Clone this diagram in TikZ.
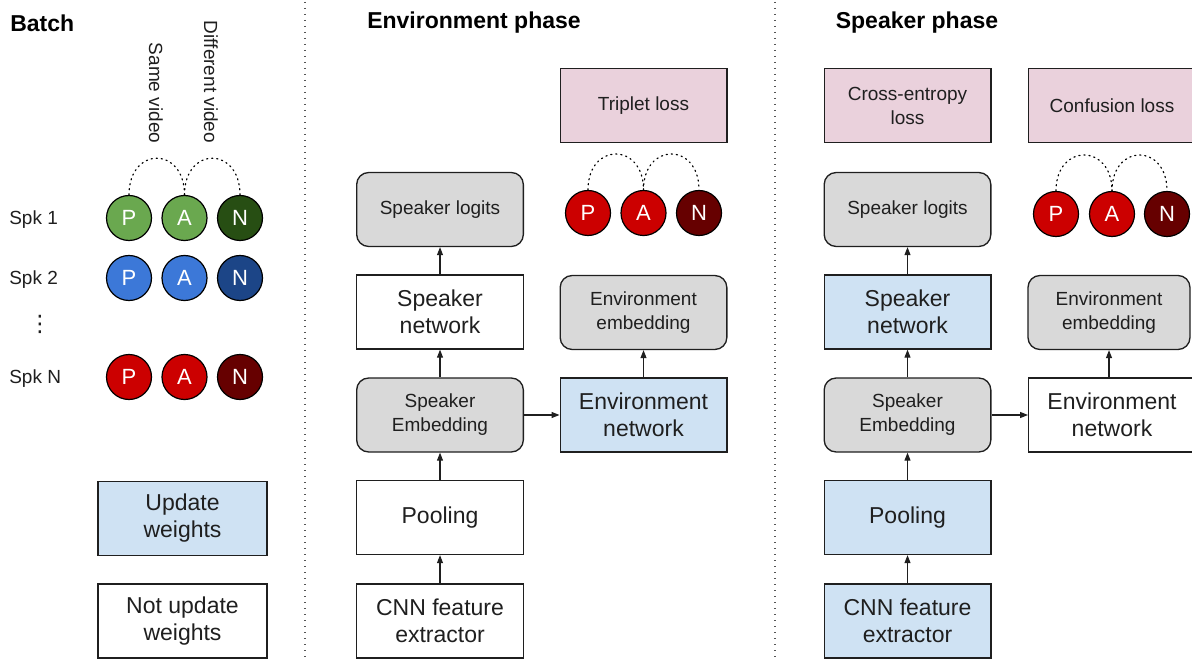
\documentclass[tikz,border=0pt]{standalone}
\usepackage{fontspec}
\setmainfont{Liberation Sans}
\newfontfamily\symfont{DejaVu Sans}
\usetikzlibrary{arrows.meta}

\definecolor{txt}{HTML}{1F1F1F}
\definecolor{boxblue}{HTML}{CFE2F3}
\definecolor{boxgray}{HTML}{D9D9D9}
\definecolor{boxpink}{HTML}{EAD1DC}
\definecolor{sgreen}{HTML}{6AA84F}
\definecolor{sgreend}{HTML}{274E13}
\definecolor{sblue}{HTML}{3C78D8}
\definecolor{sblued}{HTML}{1C4587}
\definecolor{sred}{HTML}{CC0000}
\definecolor{sredd}{HTML}{660000}
\definecolor{sepgray}{HTML}{555555}

\newcommand{\smallfont}{\fontsize{14.25}{18}\selectfont}
\newcommand{\bigfont}{\fontsize{17.25}{20.25}\selectfont}

\tikzset{
  blk/.style={draw=txt, line width=1pt, text=txt, align=center, inner sep=0pt,
    minimum width=125pt, minimum height=55.5pt},
  sqbox/.style={blk},
  rbox/.style={blk, rounded corners=9pt, fill=boxgray},
  bluebox/.style={blk, fill=boxblue},
  pinkbox/.style={blk, fill=boxpink},
  smalltxt/.style={font=\smallfont},
  bigtxt/.style={font=\bigfont},
  sample/.style={circle, draw=black, line width=0.9pt, minimum size=33.75pt,
    inner sep=0pt, text=white, font=\fontsize{16.5}{18}\selectfont},
  flow/.style={-{Triangle[length=6pt,width=4.5pt]}, line width=0.8pt, draw=txt},
  pairlink/.style={line width=0.9pt, dash pattern=on 0.9pt off 2.9pt, line cap=round},
  separator/.style={draw=sepgray, line width=1.1pt, dash pattern=on 1.1pt off 3.4pt},
  heading/.style={font=\bfseries\fontsize{17.25}{20}\selectfont, text=black, inner sep=0pt},
  label/.style={font=\smallfont, text=txt, inner sep=0pt},
}

\begin{document}
\begin{tikzpicture}[x=0.75pt, y=-0.75pt]
\useasboundingbox (0,0) rectangle (1192,659);

% panel separators
\draw[separator] (305,2) -- (305,659);
\draw[separator] (775,2) -- (775,659);

% ---------------- Batch ----------------
\node[heading, anchor=west] (hbatch) at (10,23) {Batch};
\node[label, rotate=-90] (same) at (156,93) {Same video};
\node[label, rotate=-90] (diff) at (211,82) {Different video};

\node[label, anchor=west] (spk1) at (9,220) {Spk 1};
\node[label, anchor=west] (spk2) at (9,280) {Spk 2};
\node[label, anchor=west] (spkn) at (9,379) {Spk N};
\node[label, font=\symfont\fontsize{17}{18}\selectfont] (vdots) at (40,324) {⋮};

\node[sample, fill=sgreen]  (b1p) at (129,218) {P};
\node[sample, fill=sgreen]  (b1a) at (184.5,218) {A};
\node[sample, fill=sgreend] (b1n) at (240,218) {N};
\node[sample, fill=sblue]   (b2p) at (129,278) {P};
\node[sample, fill=sblue]   (b2a) at (184.5,278) {A};
\node[sample, fill=sblued]  (b2n) at (240,278) {N};
\node[sample, fill=sred]    (bnp) at (129,377) {P};
\node[sample, fill=sred]    (bna) at (184.5,377) {A};
\node[sample, fill=sredd]   (bnn) at (240,377) {N};

\draw[pairlink] (b1p.north) .. controls (129,146) and (184.5,146) .. (b1a.north);
\draw[pairlink] (b1a.north) .. controls (184.5,146) and (240,146) .. (b1n.north);

\node[bluebox, bigtxt, minimum width=126.75pt] (upd) at (182.5,518.5) {Update\\weights};
\node[sqbox, bigtxt, minimum width=126.75pt] (noupd) at (182.5,621) {Not update\\weights};

% ---------------- Environment phase ----------------
\node[heading] (henv) at (474,23) {Environment phase};

\node[rbox, smalltxt]  (e-logits) at (440,209.5) {Speaker logits};
\node[sqbox, bigtxt]   (e-spknet) at (440,312) {Speaker\\network};
\node[rbox, smalltxt]  (e-spkemb) at (440,415) {Speaker\\Embedding};
\node[sqbox, bigtxt]   (e-pool)   at (440,517.5) {Pooling};
\node[sqbox, bigtxt]   (e-cnn)    at (440,621) {CNN feature\\extractor};

\node[pinkbox, smalltxt] (e-triplet) at (643.5,105.5) {Triplet loss};
\node[rbox, smalltxt]    (e-envemb)  at (643.5,312.5) {Environment\\embedding};
\node[bluebox, bigtxt]   (e-envnet)  at (643.5,415) {Environment\\network};

\node[sample, fill=sred]  (ep) at (588,213) {P};
\node[sample, fill=sred]  (ea) at (643.5,213) {A};
\node[sample, fill=sredd] (en) at (699,213) {N};
\draw[pairlink] (ep.north) .. controls (588,142) and (643.5,142) .. (ea.north);
\draw[pairlink] (ea.north) .. controls (643.5,142) and (699,142) .. (en.north);

\draw[flow] (e-cnn) -- (e-pool);
\draw[flow] (e-pool) -- (e-spkemb);
\draw[flow] (e-spkemb) -- (e-spknet);
\draw[flow] (e-spknet) -- (e-logits);
\draw[flow] (e-spkemb) -- (e-envnet);
\draw[flow] (e-envnet) -- (e-envemb);

% ---------------- Speaker phase ----------------
\node[heading] (hspk) at (917,23) {Speaker phase};

\node[pinkbox, smalltxt] (s-ce)     at (907.5,105.5) {Cross-entropy\\loss};
\node[rbox, smalltxt]    (s-logits) at (907.5,209.5) {Speaker logits};
\node[bluebox, bigtxt]   (s-spknet) at (907.5,312) {Speaker\\network};
\node[rbox, smalltxt]    (s-spkemb) at (907.5,415) {Speaker\\Embedding};
\node[bluebox, bigtxt]   (s-pool)   at (907.5,517.5) {Pooling};
\node[bluebox, bigtxt]   (s-cnn)    at (907.5,621) {CNN feature\\extractor};

\node[pinkbox, smalltxt] (s-conf)   at (1112,105.5) {Confusion loss};
\node[rbox, smalltxt, minimum width=121.5pt] (s-envemb) at (1109,312.5) {Environment\\embedding};
\node[sqbox, bigtxt]     (s-envnet) at (1112,415) {Environment\\network};

\node[sample, fill=sred]  (sp) at (1056,214) {P};
\node[sample, fill=sred]  (sa) at (1112,214) {A};
\node[sample, fill=sredd] (sn) at (1167,214) {N};
\draw[pairlink] (sp.north) .. controls (1056,143) and (1112,143) .. (sa.north);
\draw[pairlink] (sa.north) .. controls (1112,143) and (1167,143) .. (sn.north);

\draw[flow] (s-cnn) -- (s-pool);
\draw[flow] (s-pool) -- (s-spkemb);
\draw[flow] (s-spkemb) -- (s-spknet);
\draw[flow] (s-spknet) -- (s-logits);
\draw[flow] (s-spkemb) -- (s-envnet);
\draw[flow] (s-envnet.north -| s-envemb.south) -- (s-envemb.south);
\end{tikzpicture}
\end{document}
